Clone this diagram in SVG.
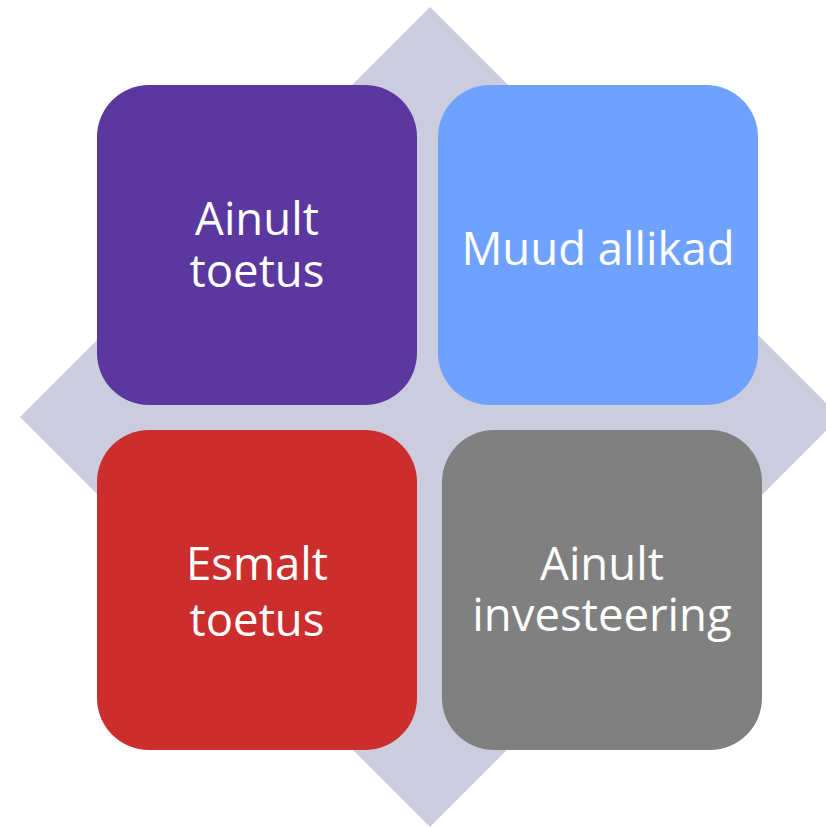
<svg xmlns="http://www.w3.org/2000/svg" width="826" height="827" viewBox="0 0 826 827">
<style>
.box{stroke:none}
.t{font-family:"Open Sans","Noto Sans","DejaVu Sans",sans-serif;font-size:45.5px;fill:#ffffff;text-anchor:middle}
</style>
<rect width="826" height="827" fill="#ffffff"/>
<g id="diamond"><polygon points="430,7 840,417 430,827 20,417" fill="#CBCCDE"/></g>
<g id="ainult-toetus">
<rect class="box" x="97" y="85" width="320" height="320" rx="52" fill="#5A389F"/>
<text class="t" x="257" y="235">Ainult</text>
<text class="t" x="257" y="287">toetus</text>
</g>
<g id="muud-allikad">
<rect class="box" x="438" y="85" width="320" height="320" rx="52" fill="#6FA1FF"/>
<text class="t" x="598" y="265">Muud allikad</text>
</g>
<g id="esmalt-toetus">
<rect class="box" x="97" y="430" width="320" height="320" rx="52" fill="#CC2E2E"/>
<text class="t" x="257" y="580">Esmalt</text>
<text class="t" x="257" y="636">toetus</text>
</g>
<g id="ainult-investeering">
<rect class="box" x="442" y="430" width="320" height="320" rx="52" fill="#808080"/>
<text class="t" x="602" y="580">Ainult</text>
<text class="t" x="602" y="631">investeering</text>
</g>
<g id="connectors"></g>
</svg>
